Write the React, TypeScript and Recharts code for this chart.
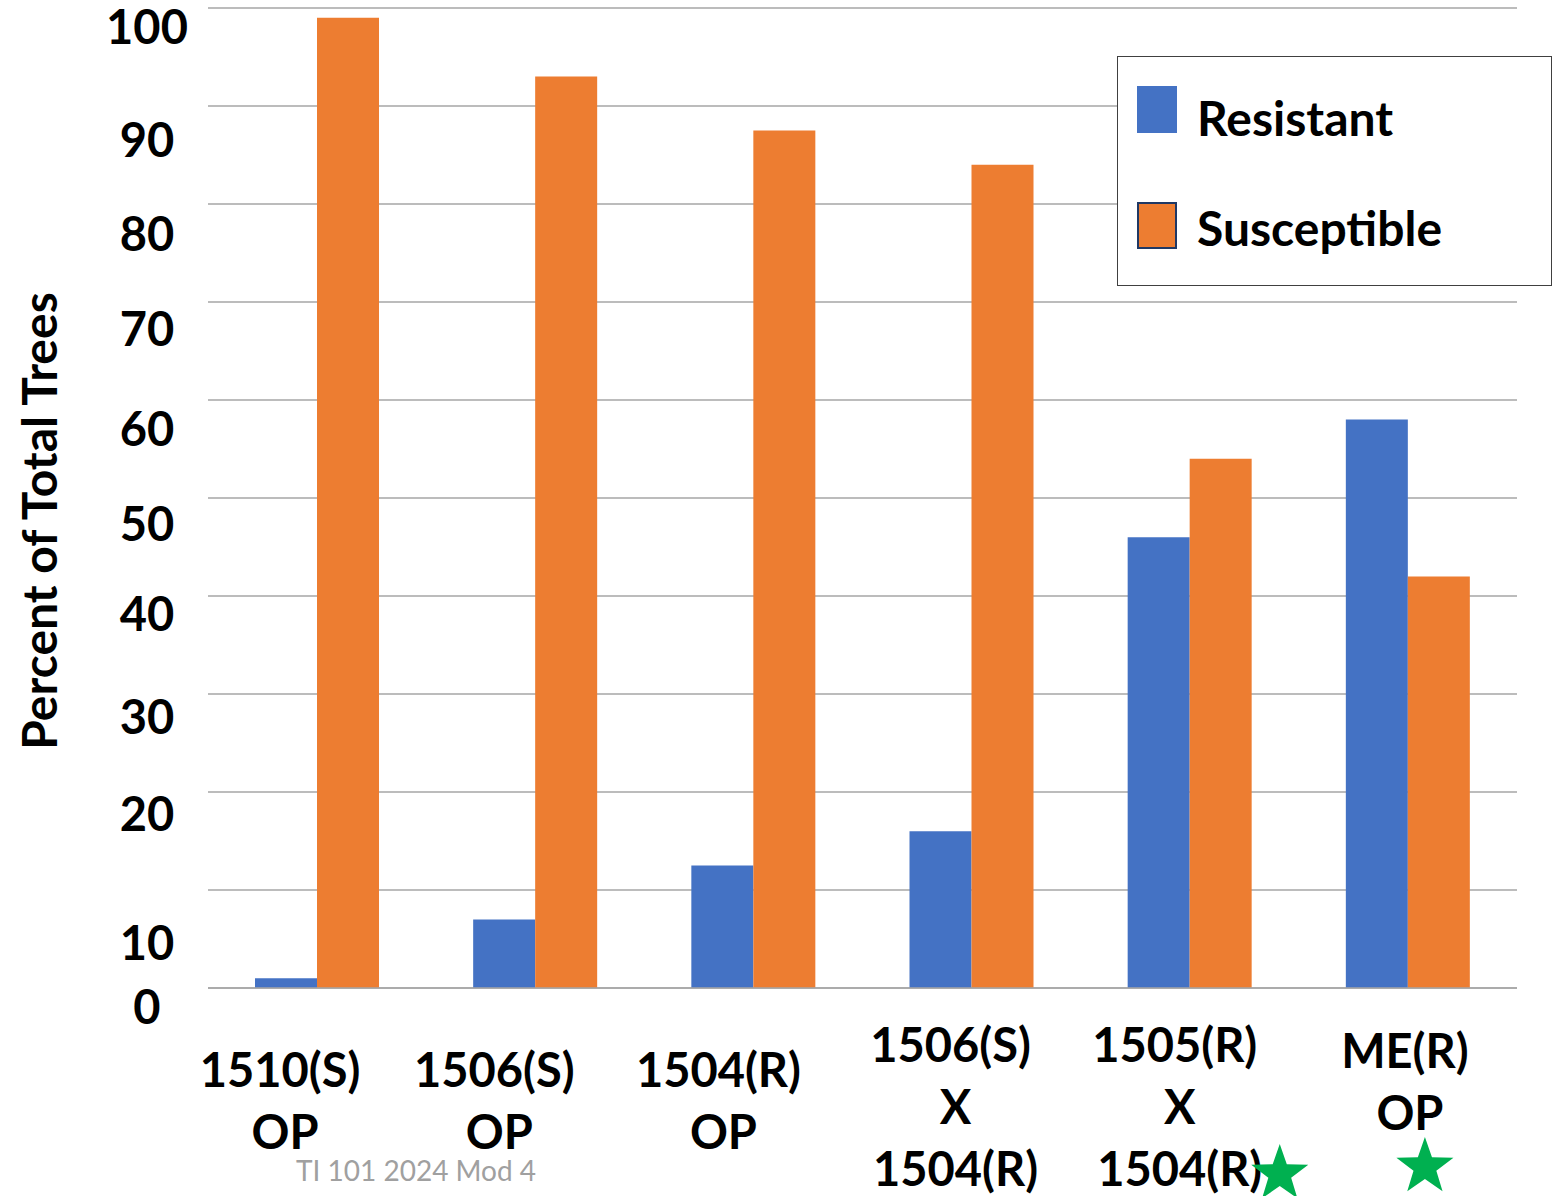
import React from "react";
import { Bar, BarChart, CartesianGrid, XAxis, YAxis } from "recharts";

const categories = [
  "1510(S)\nOP",
  "1506(S)\nOP",
  "1504(R)\nOP",
  "1506(S)\nX\n1504(R)",
  "1505(R)\nX\n1504(R)",
  "ME(R)\nOP",
];
const resistant = [1, 7, 12.5, 16, 46, 58];
const susceptible = [99, 93, 87.5, 84, 54, 42];
const starred = [false, false, false, false, true, true];
const yTicks = [0, 10, 20, 30, 40, 50, 60, 70, 80, 90, 100];

// the slide's text boxes sit a little off the axis positions
const xLabelShift = [
  { dx: -37, dy: 99 },
  { dx: -41, dy: 99 },
  { dx: -35, dy: 99 },
  { dx: -21, dy: 74 },
  { dx: -15, dy: 74 },
  { dx: -3, dy: 80 },
];
const yLabelShift: Record<number, number> = {
  0: 37, 10: 71, 20: 40, 30: 41, 40: 36, 50: 44, 60: 47, 70: 45, 80: 48, 90: 52, 100: 37,
};

const BLUE = "#4472C4";
const ORANGE = "#ED7D31";
const FONT = "Lato, 'Open Sans', sans-serif";

const data = categories.map((name, i) => ({
  name,
  Resistant: resistant[i],
  Susceptible: susceptible[i],
}));

function starPoints(cx: number, cy: number, r: number) {
  const pts: string[] = [];
  for (let k = 0; k < 10; k++) {
    const rad = k % 2 === 0 ? r : r * 0.4;
    const a = -Math.PI / 2 + (k * Math.PI) / 5;
    pts.push(`${cx + rad * Math.cos(a)},${cy + rad * Math.sin(a)}`);
  }
  return pts.join(" ");
}

function CategoryTick(props: any) {
  const { x, y, payload, index } = props;
  const lines = String(payload.value).split("\n");
  const shift = xLabelShift[index] ?? { dx: 0, dy: 80 };
  const base = y + shift.dy;
  const lastBase = base + (lines.length - 1) * 62;
  return (
    <g>
      <text
        x={x + shift.dx}
        y={base}
        textAnchor="middle"
        fontFamily={FONT}
        fontWeight={700}
        fontSize={47}
        fill="#000"
      >
        {lines.map((ln, i) => (
          <tspan key={i} x={x + shift.dx + (i > 0 ? 5 : 0)} y={base + i * 62}>
            {ln}
          </tspan>
        ))}
      </text>
      {starred[index] && (
        <polygon
          points={
            lines.length > 2
              ? starPoints(x + 90, lastBase - 12, 30)
              : starPoints(x + 17, lastBase + 37, 30)
          }
          fill="#00B050"
        />
      )}
    </g>
  );
}

function ValueTick(props: any) {
  const { y, payload } = props;
  return (
    <text
      x={147}
      y={y + (yLabelShift[payload.value] ?? 37) - 1}
      textAnchor="middle"
      fontFamily={FONT}
      fontWeight={700}
      fontSize={47}
      fill="#000"
    >
      {payload.value}
    </text>
  );
}

function AxisTitle(props: any) {
  const { viewBox } = props;
  const cx = viewBox.x + 57;
  const cy = viewBox.y + viewBox.height / 2 + 23;
  return (
    <text
      x={cx}
      y={cy}
      transform={`rotate(-90 ${cx} ${cy})`}
      textAnchor="middle"
      fontFamily={FONT}
      fontWeight={700}
      fontSize={48}
      fill="#000"
    >
      Percent of Total Trees
    </text>
  );
}

function LegendBox() {
  const items = [
    { label: "Resistant", color: BLUE, border: "none" },
    { label: "Susceptible", color: ORANGE, border: "2px solid #1F3864" },
  ];
  return (
    <div
      style={{
        position: "absolute",
        left: 1117,
        top: 56,
        width: 435,
        height: 230,
        boxSizing: "border-box",
        border: "1.5px solid #404040",
        background: "#fff",
        fontFamily: FONT,
      }}
    >
      {items.map((it, i) => (
        <div key={it.label}>
          <div
            style={{
              position: "absolute",
              left: 19,
              top: 29 + i * 116,
              width: 40,
              height: 47,
              boxSizing: "border-box",
              background: it.color,
              border: it.border,
            }}
          />
          <div
            style={{
              position: "absolute",
              left: 79,
              top: 29 + i * 110,
              fontSize: 48,
              fontWeight: 700,
              lineHeight: "64px",
              color: "#000",
              whiteSpace: "nowrap",
            }}
          >
            {it.label}
          </div>
        </div>
      ))}
    </div>
  );
}

export default function App() {
  return (
    <div style={{ position: "absolute", left: 0, top: 0, width: 1555, height: 1196, background: "#fff" }}>
      <BarChart
        width={1555}
        height={1196}
        data={data}
        margin={{ top: 8, right: 38, bottom: 0, left: 0 }}
        barSize={62}
        barGap={0}
      >
        <CartesianGrid vertical={false} stroke="#a6a6a6" strokeWidth={1.5} />
        <XAxis
          dataKey="name"
          height={208}
          axisLine={{ stroke: "#a6a6a6", strokeWidth: 1.5 }}
          tickLine={false}
          tickSize={0}
          tickMargin={0}
          interval={0}
          tick={<CategoryTick />}
        />
        <YAxis
          width={208}
          domain={[0, 100]}
          ticks={yTicks}
          axisLine={false}
          tickLine={false}
          interval={0}
          tick={<ValueTick />}
          label={<AxisTitle />}
        />
        <Bar dataKey="Resistant" fill={BLUE} isAnimationActive={false} />
        <Bar dataKey="Susceptible" fill={ORANGE} isAnimationActive={false} />
      </BarChart>
      <LegendBox />
      <div
        style={{
          position: "absolute",
          left: 296,
          top: 1152,
          fontFamily: FONT,
          fontSize: 28,
          color: "#a0a0a0",
          lineHeight: "36px",
          whiteSpace: "nowrap",
        }}
      >
        TI 101 2024 Mod 4
      </div>
    </div>
  );
}
